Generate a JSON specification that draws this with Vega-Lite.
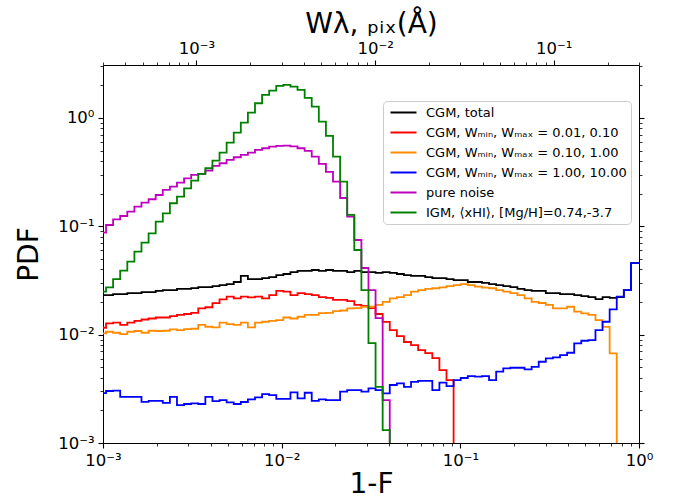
{
"$schema": "https://vega.github.io/schema/vega-lite/v6.json",
"width": 536, "height": 378,
"autosize": {"type": "none"},
"padding": {"left": 103, "top": 65, "right": 37, "bottom": 60},
"background": "white",
"config": {
"font": "DejaVu Sans",
"view": {"stroke": null},
"axis": {"domainColor": "black", "domainWidth": 1, "tickColor": "black", "labelColor": "black", "titleColor": "black", "grid": false, "labelFont": "DejaVu Sans", "titleFont": "DejaVu Sans", "titleFontWeight": "normal", "labelFlush": false, "labelOverlap": false, "labelBound": false, "labelFontSize": 16.5, "labelPadding": 4, "titleFontSize": 28}
},
"layer": [
{
"data": {"values": [
{"x":0.000949,"tot":0.0232,"r":0.01158,"o":0.01028,"b":0.00289,"m":0.0873,"g":0.0249},
{"x":0.00104,"tot":0.0232,"r":0.0127,"o":0.01064,"b":0.00302,"m":0.1028,"g":0.0273},
{"x":0.001139,"tot":0.0237,"r":0.0129,"o":0.01041,"b":0.00304,"m":0.116,"g":0.0326},
{"x":0.001248,"tot":0.0237,"r":0.0123,"o":0.01013,"b":0.00267,"m":0.1245,"g":0.0389},
{"x":0.001368,"tot":0.0242,"r":0.0129,"o":0.01064,"b":0.00267,"m":0.1364,"g":0.0471},
{"x":0.001499,"tot":0.0242,"r":0.0134,"o":0.0108,"b":0.00267,"m":0.1517,"g":0.0583},
{"x":0.001642,"tot":0.0247,"r":0.0138,"o":0.01041,"b":0.0024,"m":0.1652,"g":0.0706},
{"x":0.0018,"tot":0.0247,"r":0.0141,"o":0.01086,"b":0.00245,"m":0.1776,"g":0.0862},
{"x":0.001972,"tot":0.0253,"r":0.0144,"o":0.0108,"b":0.00245,"m":0.1945,"g":0.1103},
{"x":0.002161,"tot":0.0258,"r":0.0144,"o":0.01086,"b":0.00235,"m":0.2164,"g":0.1318},
{"x":0.002368,"tot":0.0258,"r":0.0148,"o":0.01119,"b":0.00267,"m":0.2321,"g":0.1631},
{"x":0.002594,"tot":0.0264,"r":0.0152,"o":0.01103,"b":0.00224,"m":0.2527,"g":0.1876},
{"x":0.002843,"tot":0.0264,"r":0.0155,"o":0.01126,"b":0.00229,"m":0.2774,"g":0.2243},
{"x":0.003115,"tot":0.0269,"r":0.0159,"o":0.01134,"b":0.00232,"m":0.2976,"g":0.2637},
{"x":0.003413,"tot":0.0275,"r":0.0175,"o":0.0123,"b":0.00229,"m":0.3041,"g":0.3041},
{"x":0.00374,"tot":0.0275,"r":0.0179,"o":0.01183,"b":0.00267,"m":0.3262,"g":0.3433},
{"x":0.004098,"tot":0.0281,"r":0.0195,"o":0.01168,"b":0.00244,"m":0.3604,"g":0.4035},
{"x":0.00449,"tot":0.0287,"r":0.0212,"o":0.0129,"b":0.00249,"m":0.3817,"g":0.4782},
{"x":0.00492,"tot":0.0293,"r":0.0224,"o":0.01253,"b":0.00237,"m":0.4095,"g":0.5915},
{"x":0.005391,"tot":0.0306,"r":0.0216,"o":0.0123,"b":0.00229,"m":0.4337,"g":0.7316},
{"x":0.005907,"tot":0.0348,"r":0.0224,"o":0.0129,"b":0.00239,"m":0.4553,"g":0.905},
{"x":0.006471,"tot":0.0326,"r":0.0221,"o":0.01168,"b":0.00253,"m":0.4782,"g":1.119},
{"x":0.007091,"tot":0.0326,"r":0.0224,"o":0.0129,"b":0.00264,"m":0.5064,"g":1.367},
{"x":0.00777,"tot":0.0333,"r":0.0216,"o":0.01315,"b":0.00283,"m":0.5252,"g":1.631},
{"x":0.008513,"tot":0.034,"r":0.0232,"o":0.0134,"b":0.00277,"m":0.5433,"g":1.787},
{"x":0.009328,"tot":0.0355,"r":0.0254,"o":0.01364,"b":0.00255,"m":0.5515,"g":1.975},
{"x":0.01022,"tot":0.0363,"r":0.0249,"o":0.0144,"b":0.00255,"m":0.555,"g":2.017},
{"x":0.0112,"tot":0.0378,"r":0.0232,"o":0.0141,"b":0.00293,"m":0.5456,"g":1.945},
{"x":0.01227,"tot":0.0387,"r":0.0242,"o":0.01463,"b":0.00258,"m":0.5252,"g":1.814},
{"x":0.01345,"tot":0.0387,"r":0.0237,"o":0.0152,"b":0.00291,"m":0.4958,"g":1.53},
{"x":0.01473,"tot":0.0395,"r":0.0232,"o":0.0152,"b":0.00245,"m":0.4391,"g":1.271},
{"x":0.01614,"tot":0.0387,"r":0.0222,"o":0.0158,"b":0.00253,"m":0.376,"g":0.924},
{"x":0.01769,"tot":0.0395,"r":0.0218,"o":0.0159,"b":0.00249,"m":0.3172,"g":0.682},
{"x":0.01938,"tot":0.0387,"r":0.0209,"o":0.0165,"b":0.00249,"m":0.2581,"g":0.439},
{"x":0.02124,"tot":0.0387,"r":0.0209,"o":0.0167,"b":0.00298,"m":0.1825,"g":0.258},
{"x":0.02327,"tot":0.0378,"r":0.0204,"o":0.0175,"b":0.00308,"m":0.1227,"g":0.1272},
{"x":0.0255,"tot":0.0387,"r":0.0188,"o":0.0176,"b":0.00308,"m":0.0747,"g":0.0604},
{"x":0.02794,"tot":0.0378,"r":0.0184,"o":0.0181,"b":0.00298,"m":0.0412,"g":0.0258},
{"x":0.03061,"tot":0.0378,"r":0.0176,"o":0.0181,"b":0.00319,"m":0.0258,"g":0.00836},
{"x":0.03354,"tot":0.0371,"r":0.0155,"o":0.0188,"b":0.00308,"m":0.01423,"g":0.0033},
{"x":0.03675,"tot":0.0378,"r":0.0131,"o":0.0201,"b":0.00287,"m":0.00249,"g":0.001315},
{"x":0.04027,"tot":0.0371,"r":0.011,"o":0.0216,"b":0.00343,"m":0.00001,"g":0.00001},
{"x":0.04413,"tot":0.0363,"r":0.00971,"o":0.0222,"b":0.00355},
{"x":0.04835,"tot":0.0355,"r":0.00855,"o":0.0232,"b":0.0033},
{"x":0.05298,"tot":0.0348,"r":0.00802,"o":0.0249,"b":0.00367},
{"x":0.05805,"tot":0.0348,"r":0.00721,"o":0.0258,"b":0.00375},
{"x":0.0636,"tot":0.034,"r":0.00676,"o":0.0264,"b":0.00375},
{"x":0.06969,"tot":0.0333,"r":0.00608,"o":0.0268,"b":0.00308},
{"x":0.07636,"tot":0.0333,"r":0.00471,"o":0.0273,"b":0.00361},
{"x":0.08367,"tot":0.0326,"r":0.00381,"o":0.0281,"b":0.00335},
{"x":0.09169,"tot":0.0319,"r":0.00001,"o":0.0287,"b":0.00381},
{"x":0.10046,"tot":0.0319,"o":0.0293,"b":0.00398},
{"x":0.11007,"tot":0.0306,"o":0.0287,"b":0.00415},
{"x":0.1206,"tot":0.0306,"o":0.0277,"b":0.00409},
{"x":0.13215,"tot":0.03,"o":0.0272,"b":0.00415},
{"x":0.1448,"tot":0.0293,"o":0.0268,"b":0.00381},
{"x":0.15867,"tot":0.0287,"o":0.0258,"b":0.00455},
{"x":0.17386,"tot":0.0281,"o":0.0249,"b":0.00489},
{"x":0.1905,"tot":0.0275,"o":0.0242,"b":0.00495},
{"x":0.2087,"tot":0.0264,"o":0.0232,"b":0.00495},
{"x":0.2287,"tot":0.0258,"o":0.0216,"b":0.00478},
{"x":0.2506,"tot":0.0253,"o":0.0201,"b":0.00505},
{"x":0.2746,"tot":0.0253,"o":0.0196,"b":0.00562},
{"x":0.3009,"tot":0.0242,"o":0.0188,"b":0.00604},
{"x":0.3297,"tot":0.0242,"o":0.0175,"b":0.00617},
{"x":0.3613,"tot":0.0237,"o":0.0175,"b":0.00648},
{"x":0.3959,"tot":0.0237,"o":0.0181,"b":0.00681},
{"x":0.4338,"tot":0.0232,"o":0.0163,"b":0.00831},
{"x":0.4753,"tot":0.0227,"o":0.0157,"b":0.00878},
{"x":0.5208,"tot":0.0222,"o":0.0152,"b":0.00891},
{"x":0.5706,"tot":0.0213,"o":0.0136,"b":0.011},
{"x":0.6252,"tot":0.0222,"o":0.0118,"b":0.01315},
{"x":0.6851,"tot":0.0218,"o":0.00672,"b":0.0171},
{"x":0.7507,"tot":0.0222,"o":0.00001,"b":0.0224},
{"x":0.8225,"tot":0.0258,"b":0.0258},
{"x":0.9012,"tot":0.0458,"b":0.0457},
{"x":1.02,"tot":0.00001,"b":0.00001}
]},
"transform": [
{"fold": ["tot","r","o","b","m","g"], "as": ["series","val"]},
{"filter": "isValid(datum.val) && datum.val > 0"}
],
"mark": {"type": "line", "interpolate": "step-after", "clip": true, "strokeWidth": 1.8},
"encoding": {
"x": {"field": "x", "type": "quantitative",
"scale": {"type": "log", "domain": [0.001, 1], "nice": false},
"axis": {"orient": "bottom", "title": "1-F", "titlePadding": 2,
"values": [0.001,0.002,0.003,0.004,0.005,0.006,0.007,0.008,0.009,0.01,0.02,0.03,0.04,0.05,0.06,0.07,0.08,0.09,0.1,0.2,0.3,0.4,0.5,0.6,0.7,0.8,0.9,1],
"labelExpr": "abs(log(datum.value)/LN10 - round(log(datum.value)/LN10)) < 0.001 ? (round(log(datum.value)/LN10) == -3 ? '10⁻³' : round(log(datum.value)/LN10) == -2 ? '10⁻²' : round(log(datum.value)/LN10) == -1 ? '10⁻¹' : '10⁰') : ''",
"tickSize": {"condition": {"test": "abs(log(datum.value)/LN10 - round(log(datum.value)/LN10)) < 0.001", "value": 5}, "value": 3},
"tickWidth": {"condition": {"test": "abs(log(datum.value)/LN10 - round(log(datum.value)/LN10)) < 0.001", "value": 1.1}, "value": 0.8}}},
"y": {"field": "val", "type": "quantitative",
"scale": {"type": "log", "domain": [0.001, 3.08], "nice": false},
"axis": {"orient": "left", "title": "PDF", "titlePadding": 14,
"values": [0.001,0.002,0.003,0.004,0.005,0.006,0.007,0.008,0.009,0.01,0.02,0.03,0.04,0.05,0.06,0.07,0.08,0.09,0.1,0.2,0.3,0.4,0.5,0.6,0.7,0.8,0.9,1,2,3],
"labelExpr": "abs(log(datum.value)/LN10 - round(log(datum.value)/LN10)) < 0.001 ? (round(log(datum.value)/LN10) == -3 ? '10⁻³' : round(log(datum.value)/LN10) == -2 ? '10⁻²' : round(log(datum.value)/LN10) == -1 ? '10⁻¹' : '10⁰') : ''",
"tickSize": {"condition": {"test": "abs(log(datum.value)/LN10 - round(log(datum.value)/LN10)) < 0.001", "value": 5}, "value": 3},
"tickWidth": {"condition": {"test": "abs(log(datum.value)/LN10 - round(log(datum.value)/LN10)) < 0.001", "value": 1.1}, "value": 0.8}}},
"color": {"field": "series", "type": "nominal",
"scale": {"domain": ["tot","r","o","b","m","g"], "range": ["black","red","darkorange","blue","#bf00bf","green"]},
"legend": {"orient": "none", "legendX": 280, "legendY": 36, "title": null, "direction": "vertical",
"symbolType": "M-2,0H2", "symbolStrokeWidth": 2, "symbolSize": 169, "symbolOffset": 9,
"labelFontSize": 13, "labelFont": "DejaVu Sans", "labelColor": "black", "labelOffset": 15, "labelLimit": 400,
"rowPadding": 5, "padding": 4, "strokeColor": "#cccccc", "fillColor": "white", "cornerRadius": 4,
"labelExpr": "datum.label == 'tot' ? 'CGM, total' : datum.label == 'r' ? 'CGM, Wₘᵢₙ, Wₘₐₓ = 0.01, 0.10' : datum.label == 'o' ? 'CGM, Wₘᵢₙ, Wₘₐₓ = 0.10, 1.00' : datum.label == 'b' ? 'CGM, Wₘᵢₙ, Wₘₐₓ = 1.00, 10.00' : datum.label == 'm' ? 'pure noise' : 'IGM, ⟨xHI⟩, [Mg/H]=0.74,-3.7'"}}
}
},
{
"data": {"values": [{"w": 0.0003, "p": 0.01}, {"w": 0.3, "p": 0.01}]},
"mark": {"type": "point", "opacity": 0},
"encoding": {
"x": {"field": "w", "type": "quantitative",
"scale": {"type": "log", "domain": [0.0003, 0.3], "nice": false},
"axis": {"orient": "top", "title": "Wλ, ₚᵢₓ(Å)", "titlePadding": 2,
"values": [0.0003,0.0004,0.0005,0.0006,0.0007,0.0008,0.0009,0.001,0.002,0.003,0.004,0.005,0.006,0.007,0.008,0.009,0.01,0.02,0.03,0.04,0.05,0.06,0.07,0.08,0.09,0.1,0.2,0.3],
"labelExpr": "abs(log(datum.value)/LN10 - round(log(datum.value)/LN10)) < 0.001 ? (round(log(datum.value)/LN10) == -3 ? '10⁻³' : round(log(datum.value)/LN10) == -2 ? '10⁻²' : round(log(datum.value)/LN10) == -1 ? '10⁻¹' : '10⁰') : ''",
"tickSize": {"condition": {"test": "abs(log(datum.value)/LN10 - round(log(datum.value)/LN10)) < 0.001", "value": 5}, "value": 3},
"tickWidth": {"condition": {"test": "abs(log(datum.value)/LN10 - round(log(datum.value)/LN10)) < 0.001", "value": 1.1}, "value": 0.8}}},
"y": {"field": "p", "type": "quantitative",
"scale": {"type": "log", "domain": [0.001, 3.08], "nice": false},
"axis": {"orient": "right", "title": null, "labels": false,
"values": [0.001,0.002,0.003,0.004,0.005,0.006,0.007,0.008,0.009,0.01,0.02,0.03,0.04,0.05,0.06,0.07,0.08,0.09,0.1,0.2,0.3,0.4,0.5,0.6,0.7,0.8,0.9,1,2,3],
"tickSize": {"condition": {"test": "abs(log(datum.value)/LN10 - round(log(datum.value)/LN10)) < 0.001", "value": 5}, "value": 3},
"tickWidth": {"condition": {"test": "abs(log(datum.value)/LN10 - round(log(datum.value)/LN10)) < 0.001", "value": 1.1}, "value": 0.8}}}
}
}
],
"resolve": {"scale": {"x": "independent"}, "axis": {"x": "independent", "y": "independent"}}
}
